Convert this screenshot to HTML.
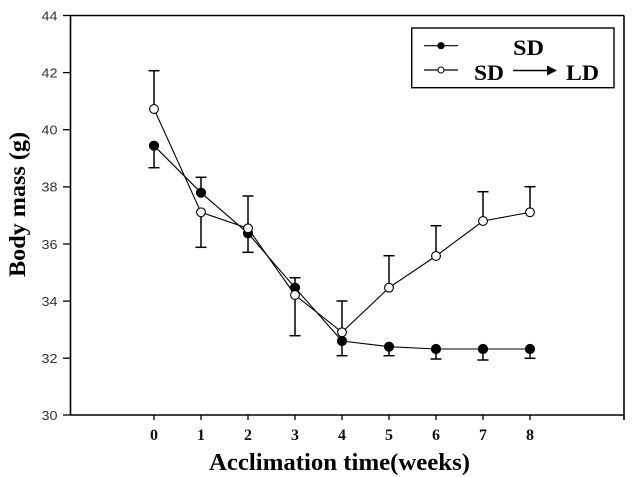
<!DOCTYPE html>
<html><head><meta charset="utf-8"><style>html,body{margin:0;padding:0;background:#fff}svg{display:block}</style></head>
<body>
<svg width="638" height="477" viewBox="0 0 638 477" xmlns="http://www.w3.org/2000/svg">
<rect width="638" height="477" fill="#fff"/>
<!-- frame -->
<g stroke="#000" stroke-width="1.6" fill="none">
<line x1="70.5" y1="15.5" x2="624" y2="15.5"/>
<line x1="70.5" y1="15.5" x2="70.5" y2="415"/>
<line x1="70.5" y1="415" x2="624" y2="415"/>
<line x1="624" y1="15.5" x2="624" y2="420"/>
</g>
<!-- y ticks -->
<g stroke="#000" stroke-width="1.3">
<line x1="63" y1="15.5" x2="70.5" y2="15.5"/>
<line x1="63" y1="72.6" x2="70.5" y2="72.6"/>
<line x1="63" y1="129.7" x2="70.5" y2="129.7"/>
<line x1="63" y1="186.9" x2="70.5" y2="186.9"/>
<line x1="63" y1="244" x2="70.5" y2="244"/>
<line x1="63" y1="301.1" x2="70.5" y2="301.1"/>
<line x1="63" y1="358.2" x2="70.5" y2="358.2"/>
<line x1="63" y1="415" x2="70.5" y2="415"/>
</g>
<g font-family="Liberation Sans, sans-serif" font-size="13" fill="#333">
<text x="41.5" y="20.5" textLength="16" lengthAdjust="spacingAndGlyphs">44</text>
<text x="41.5" y="77.5" textLength="16" lengthAdjust="spacingAndGlyphs">42</text>
<text x="41.5" y="134.5" textLength="16" lengthAdjust="spacingAndGlyphs">40</text>
<text x="41.5" y="191.5" textLength="16" lengthAdjust="spacingAndGlyphs">38</text>
<text x="41.5" y="249" textLength="16" lengthAdjust="spacingAndGlyphs">36</text>
<text x="41.5" y="306" textLength="16" lengthAdjust="spacingAndGlyphs">34</text>
<text x="41.5" y="363" textLength="16" lengthAdjust="spacingAndGlyphs">32</text>
<text x="41.5" y="420" textLength="16" lengthAdjust="spacingAndGlyphs">30</text>
</g>
<!-- x ticks -->
<g stroke="#000" stroke-width="1.3">
<line x1="154" y1="415" x2="154" y2="420"/>
<line x1="201" y1="415" x2="201" y2="420"/>
<line x1="248" y1="415" x2="248" y2="420"/>
<line x1="295" y1="415" x2="295" y2="420"/>
<line x1="342" y1="415" x2="342" y2="420"/>
<line x1="389" y1="415" x2="389" y2="420"/>
<line x1="436" y1="415" x2="436" y2="420"/>
<line x1="483" y1="415" x2="483" y2="420"/>
<line x1="530" y1="415" x2="530" y2="420"/>
</g>
<g font-family="Liberation Serif, serif" font-size="16" font-weight="bold" fill="#111" text-anchor="middle">
<text x="154" y="440">0</text>
<text x="201" y="440">1</text>
<text x="248" y="440">2</text>
<text x="295" y="440">3</text>
<text x="342" y="440">4</text>
<text x="389" y="440">5</text>
<text x="436" y="440">6</text>
<text x="483" y="440">7</text>
<text x="530" y="440">8</text>
</g>
<!-- axis titles -->
<text x="209" y="470" font-family="Liberation Serif, serif" font-size="24" font-weight="bold" fill="#000" textLength="261" lengthAdjust="spacingAndGlyphs">Acclimation time(weeks)</text>
<text transform="translate(25,277) rotate(-90)" x="0" y="0" font-family="Liberation Serif, serif" font-size="23" font-weight="bold" fill="#000" textLength="145" lengthAdjust="spacingAndGlyphs">Body mass (g)</text>

<!-- error bars -->
<g stroke="#000" stroke-width="1.5">
<line x1="154" y1="145.7" x2="154" y2="167.7"/><line x1="148.5" y1="167.7" x2="159.5" y2="167.7"/>
<line x1="201" y1="192.7" x2="201" y2="177.3"/><line x1="195.5" y1="177.3" x2="206.5" y2="177.3"/>
<line x1="248" y1="233.3" x2="248" y2="252.3"/><line x1="242.5" y1="252.3" x2="253.5" y2="252.3"/>
<line x1="295" y1="287.7" x2="295" y2="277.7"/><line x1="289.5" y1="277.7" x2="300.5" y2="277.7"/>
<line x1="342" y1="341" x2="342" y2="355.7"/><line x1="336.5" y1="355.7" x2="347.5" y2="355.7"/>
<line x1="389" y1="346.7" x2="389" y2="355.7"/><line x1="383.5" y1="355.7" x2="394.5" y2="355.7"/>
<line x1="436" y1="349" x2="436" y2="359"/><line x1="430.5" y1="359" x2="441.5" y2="359"/>
<line x1="483" y1="349" x2="483" y2="360"/><line x1="477.5" y1="360" x2="488.5" y2="360"/>
<line x1="530" y1="349" x2="530" y2="358.3"/><line x1="524.5" y1="358.3" x2="535.5" y2="358.3"/>
<line x1="154" y1="109" x2="154" y2="70.7"/><line x1="148.5" y1="70.7" x2="159.5" y2="70.7"/>
<line x1="201" y1="212.3" x2="201" y2="247.3"/><line x1="195.5" y1="247.3" x2="206.5" y2="247.3"/>
<line x1="248" y1="228.3" x2="248" y2="196"/><line x1="242.5" y1="196" x2="253.5" y2="196"/>
<line x1="295" y1="295" x2="295" y2="335.7"/><line x1="289.5" y1="335.7" x2="300.5" y2="335.7"/>
<line x1="342" y1="332.3" x2="342" y2="301"/><line x1="336.5" y1="301" x2="347.5" y2="301"/>
<line x1="389" y1="287.7" x2="389" y2="255.7"/><line x1="383.5" y1="255.7" x2="394.5" y2="255.7"/>
<line x1="436" y1="256" x2="436" y2="225.7"/><line x1="430.5" y1="225.7" x2="441.5" y2="225.7"/>
<line x1="483" y1="221" x2="483" y2="191.7"/><line x1="477.5" y1="191.7" x2="488.5" y2="191.7"/>
<line x1="530" y1="212.3" x2="530" y2="186.7"/><line x1="524.5" y1="186.7" x2="535.5" y2="186.7"/>
</g>
<!-- series lines -->
<polyline fill="none" stroke="#000" stroke-width="1.1" points="154,145.7 201,192.7 248,233.3 295,287.7 342,341 389,346.7 436,349 483,349 530,349"/>
<polyline fill="none" stroke="#000" stroke-width="1.1" points="154,109 201,212.3 248,228.3 295,295 342,332.3 389,287.7 436,256 483,221 530,212.3"/>
<!-- markers -->
<g fill="#000" stroke="#000" stroke-width="1">
<circle cx="154" cy="145.7" r="4.6"/><circle cx="201" cy="192.7" r="4.6"/><circle cx="248" cy="233.3" r="4.6"/>
<circle cx="295" cy="287.7" r="4.6"/><circle cx="342" cy="341" r="4.6"/><circle cx="389" cy="346.7" r="4.6"/>
<circle cx="436" cy="349" r="4.6"/><circle cx="483" cy="349" r="4.6"/><circle cx="530" cy="349" r="4.6"/>
</g>
<g fill="#fff" stroke="#000" stroke-width="1.1">
<circle cx="154" cy="109" r="4.4"/><circle cx="201" cy="212.3" r="4.4"/><circle cx="248" cy="228.3" r="4.4"/>
<circle cx="295" cy="295" r="4.4"/><circle cx="342" cy="332.3" r="4.4"/><circle cx="389" cy="287.7" r="4.4"/>
<circle cx="436" cy="256" r="4.4"/><circle cx="483" cy="221" r="4.4"/><circle cx="530" cy="212.3" r="4.4"/>
</g>
<!-- legend -->
<rect x="411.7" y="28" width="202.3" height="59.7" fill="#fff" stroke="#000" stroke-width="1.4"/>
<line x1="424" y1="45.7" x2="458" y2="45.7" stroke="#000" stroke-width="1.2"/>
<circle cx="441" cy="45.7" r="3.6" fill="#000"/>
<line x1="424" y1="70" x2="458" y2="70" stroke="#000" stroke-width="1.2"/>
<circle cx="441" cy="70" r="3" fill="#fff" stroke="#000" stroke-width="1"/>
<g font-family="Liberation Serif, serif" font-size="22" font-weight="bold" fill="#000">
<text x="513" y="55" textLength="31" lengthAdjust="spacingAndGlyphs">SD</text>
<text x="474" y="80" textLength="30" lengthAdjust="spacingAndGlyphs">SD</text>
<text x="566" y="80" textLength="33" lengthAdjust="spacingAndGlyphs">LD</text>
</g>
<line x1="513" y1="70.5" x2="549" y2="70.5" stroke="#000" stroke-width="1.6"/>
<polygon points="547,65.5 557,70.5 547,75.5" fill="#000"/>
</svg>
</body></html>
